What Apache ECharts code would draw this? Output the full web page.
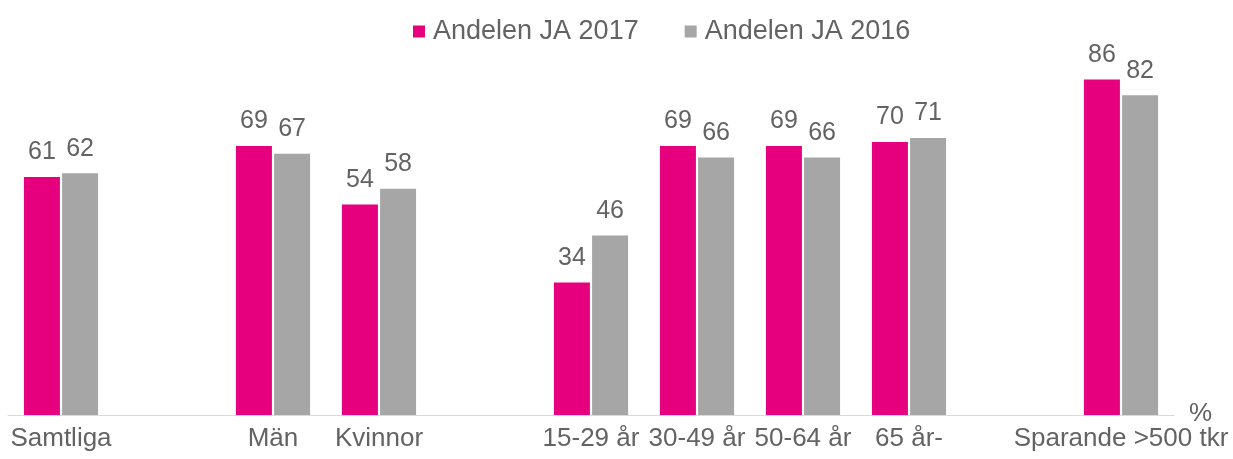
<!DOCTYPE html>
<html><head><meta charset="utf-8">
<script src="https://cdn.jsdelivr.net/npm/echarts@6/dist/echarts.min.js"></script>
<style>html,body{margin:0;padding:0;background:#fff}#c{width:1233px;height:459px}</style>
</head><body><div id="c"></div>
<script>
const categories = ['Samtliga', '', 'Män', 'Kvinnor', '', '15-29 år', '30-49 år', '50-64 år', '65 år-', '', 'Sparande >500 tkr'];
const values2017 = [61, null, 69, 54, null, 34, 69, 69, 70, null, 86];
const values2016 = [62, null, 67, 58, null, 46, 66, 66, 71, null, 82];
const seriesNames = ['Andelen JA 2017', 'Andelen JA 2016'];
const unitLabel = '%';

const FONT = '"Liberation Sans", Arial, sans-serif';
const TXT = '#636363';
const chart = echarts.init(document.getElementById('c'), null, {renderer: 'canvas'});
const lbl = {show: true, position: 'top', distance: 12, color: TXT, fontSize: 25, fontFamily: FONT};
chart.setOption({
  animation: false,
  textStyle: {fontFamily: FONT},
  legend: {
    top: 13, left: 408,
    icon: 'rect', itemWidth: 12, itemHeight: 12, itemGap: 46,
    textStyle: {color: TXT, fontSize: 27, fontFamily: FONT, padding: [0, 0, 0, 3]},
    data: seriesNames
  },
  grid: {left: 8, right: 59, top: 25, bottom: 44, containLabel: false},
  xAxis: {
    type: 'category', data: categories,
    axisLine: {lineStyle: {color: '#d9d9d9', width: 1}},
    axisTick: {show: false},
    axisLabel: {interval: 0, color: TXT, fontSize: 26, fontFamily: FONT, margin: 11}
  },
  yAxis: {type: 'value', min: 0, max: 100, show: false, splitLine: {show: false}},
  series: [
    {name: seriesNames[0], type: 'bar', data: values2017, barWidth: 36, barGap: '6%',
     itemStyle: {color: '#E6007E'}, label: lbl},
    {name: seriesNames[1], type: 'bar', data: values2016, barWidth: 36,
     itemStyle: {color: '#A6A6A6'}, label: lbl}
  ],
  graphic: [{type: 'text', left: 1189, top: 401,
    style: {text: unitLabel, fill: TXT, fontSize: 26, fontFamily: FONT}}]
});
</script></body></html>
